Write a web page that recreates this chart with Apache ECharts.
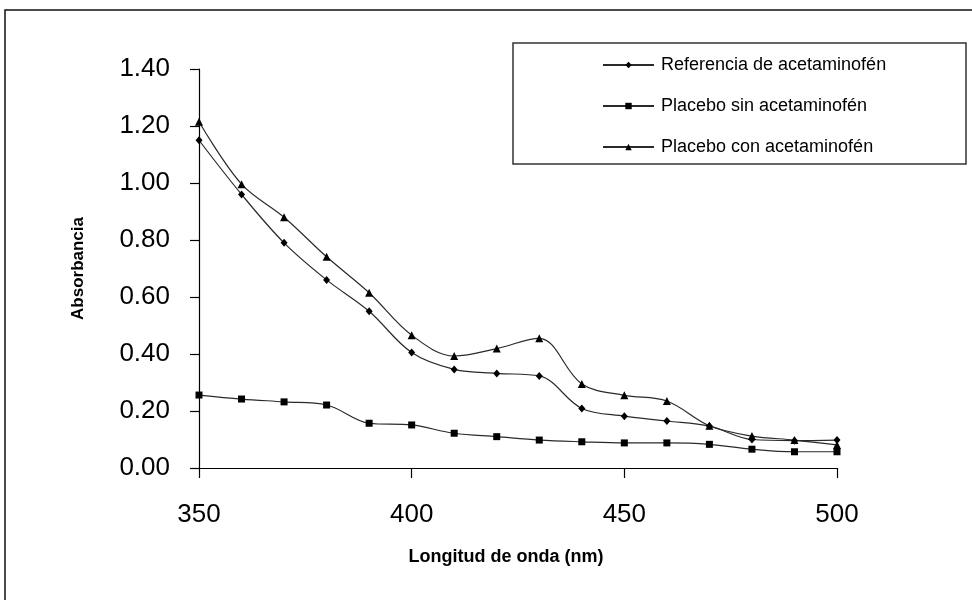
<!DOCTYPE html>
<html>
<head>
<meta charset="utf-8">
<script src="https://cdn.jsdelivr.net/npm/echarts@6/dist/echarts.min.js"></script>
<style>
html,body{margin:0;padding:0;background:#fff;}
#c{width:972px;height:600px;}
</style>
</head>
<body>
<div id="c"></div>
<script>
const wavelengths = [350,360,370,380,390,400,410,420,430,440,450,460,470,480,490,500];
const referencia = [1.15,0.96,0.79,0.66,0.55,0.405,0.346,0.332,0.323,0.209,0.182,0.165,0.147,0.100,0.096,0.098];
const placeboSin = [0.256,0.242,0.232,0.221,0.157,0.151,0.122,0.110,0.098,0.092,0.088,0.088,0.083,0.066,0.057,0.057];
const placeboCon = [1.215,0.996,0.880,0.741,0.615,0.466,0.393,0.419,0.455,0.295,0.255,0.235,0.148,0.112,0.098,0.081];
const seriesNames = ['Referencia de acetaminofén','Placebo sin acetaminofén','Placebo con acetaminofén'];
const xTitle = 'Longitud de onda (nm)';
const yTitle = 'Absorbancia';

const FONT = "'Liberation Sans', Arial, sans-serif";
const pairs = arr => wavelengths.map((w,i)=>[w,arr[i]]);

function mk(name, data, symbol, size){
  return {
    name, type:'line', data: pairs(data), smooth:0.35,
    symbol, symbolSize:size, showSymbol:true,
    lineStyle:{color:'#2a2a2a', width:1.2},
    itemStyle:{color:'#000', borderWidth:0},
    emphasis:{disabled:true}, animation:false
  };
}

const chart = echarts.init(document.getElementById('c'));
chart.setOption({
  backgroundColor:'#fff',
  animation:false,
  grid:{left:199, right:135, top:69, bottom:132},
  xAxis:{
    type:'value', min:350, max:500, interval:50,
    name:xTitle, nameLocation:'middle', nameGap:80,
    nameTextStyle:{fontFamily:FONT, fontWeight:'bold', fontSize:18, color:'#000', padding:[0,24,0,0]},
    axisLine:{lineStyle:{color:'#000', width:1.2}},
    axisTick:{show:true, length:10, lineStyle:{color:'#000', width:1.2}},
    axisLabel:{fontFamily:FONT, fontSize:26, color:'#000', margin:34},
    splitLine:{show:false}
  },
  yAxis:{
    type:'value', min:0, max:1.4, interval:0.2,
    name:yTitle, nameLocation:'middle', nameGap:112, nameRotate:90,
    nameTextStyle:{fontFamily:FONT, fontWeight:'bold', fontSize:17, color:'#000'},
    axisLine:{show:true, lineStyle:{color:'#000', width:1.2}},
    axisTick:{show:true, length:9, lineStyle:{color:'#000', width:1.2}},
    axisLabel:{fontFamily:FONT, fontSize:26, color:'#000', margin:29, formatter:v=>v.toFixed(2)},
    splitLine:{show:false}
  },
  legend:{
    orient:'vertical', left:602, top:55, padding:0,
    itemWidth:51, itemHeight:8, itemGap:21,
    data:seriesNames,
    textStyle:{fontFamily:FONT, fontSize:18, color:'#000', lineHeight:20, padding:[0,0,0,2]},
    selectedMode:false
  },
  graphic:[
    {type:'rect', z:-1, silent:true, shape:{x:5, y:10, width:1000, height:700}, style:{fill:'none', stroke:'#111', lineWidth:1.5}},
    {type:'rect', z:-1, silent:true, shape:{x:513, y:43, width:453, height:121}, style:{fill:'none', stroke:'#333', lineWidth:1.5}}
  ],
  series:[
    mk(seriesNames[0], referencia, 'diamond', [7,8]),
    mk(seriesNames[1], placeboSin, 'rect', 7),
    mk(seriesNames[2], placeboCon, 'triangle', 8)
  ]
});
</script>
</body>
</html>
